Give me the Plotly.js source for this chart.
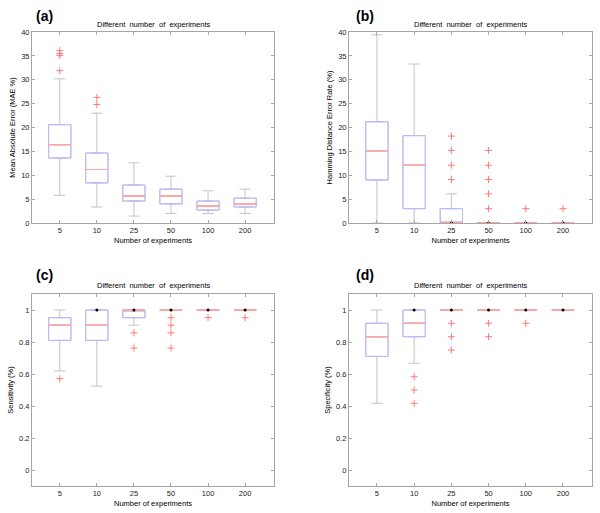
<!DOCTYPE html>
<html>
<head>
<meta charset="utf-8">
<script src="https://cdn.plot.ly/plotly-3.0.1.min.js"></script>
<style>
  html, body { margin: 0; padding: 0; background: #fff; }
  #chart { width: 600px; height: 513px; }
</style>
</head>
<body>
<div id="chart"></div>
<script>
// categories (number of experiments)
var cats = ['5', '10', '25', '50', '100', '200'];
var pos = [1, 2, 3, 4, 5, 6];

// (a) mean absolute error, box stats
var maeQ1  = [13.6, 8.4, 4.6, 4.0, 2.7, 3.35];
var maeMed = [16.4, 11.2, 5.65, 5.65, 3.55, 4.0];
var maeQ3  = [20.6, 14.65, 7.95, 7.1, 4.6, 5.2];
var maeLo  = [5.8, 3.35, 1.45, 2.0, 2.0, 2.0];
var maeHi  = [30.2, 23.0, 12.6, 9.8, 6.75, 7.1];
var maeOutX = [1, 1, 1, 1, 2, 2];
var maeOutY = [36.1, 35.5, 35.1, 31.9, 26.3, 24.8];

// (b) hamming distance error rate
var hdQ1  = [9.0, 3.0, 0, 0, 0, 0];
var hdMed = [15.1, 12.1, 0, 0, 0, 0];
var hdQ3  = [21.2, 18.3, 3.0, 0, 0, 0];
var hdLo  = [0, 0, 0, 0, 0, 0];
var hdHi  = [39.4, 33.3, 6.1, 0, 0, 0];
var hdOutX = [3, 3, 3, 3, 4, 4, 4, 4, 4, 5, 6];
var hdOutY = [18.2, 15.2, 12.1, 9.1, 15.2, 12.1, 9.1, 6.1, 3.0, 3.0, 3.0];

// (c) sensitivity
var senQ1  = [0.810, 0.810, 0.952, 1, 1, 1];
var senMed = [0.905, 0.905, 1, 1, 1, 1];
var senQ3  = [0.952, 1, 1, 1, 1, 1];
var senLo  = [0.619, 0.524, 0.905, 1, 1, 1];
var senHi  = [1, 1, 1, 1, 1, 1];
var senOutX = [1, 3, 3, 4, 4, 4, 4, 5, 6];
var senOutY = [0.571, 0.857, 0.762, 0.952, 0.905, 0.857, 0.762, 0.952, 0.952];

// (d) specificity
var speQ1  = [0.710, 0.833, 1, 1, 1, 1];
var speMed = [0.833, 0.917, 1, 1, 1, 1];
var speQ3  = [0.917, 1, 1, 1, 1, 1];
var speLo  = [0.417, 0.667, 1, 1, 1, 1];
var speHi  = [1, 1, 1, 1, 1, 1];
var speOutX = [2, 2, 2, 3, 3, 3, 4, 4, 5];
var speOutY = [0.583, 0.5, 0.417, 0.917, 0.833, 0.75, 0.917, 0.833, 0.917];

var boxBlue = 'rgb(185,185,255)';
var whiskGray = 'rgb(195,195,195)';
var medRed = 'rgb(255,165,165)';
var outRed = 'rgb(255,120,120)';

// one boxplot panel = whiskers (gray) + box (blue) + median (red) + outliers + end dots
function panel(q1, med, q3, lo, hi, outX, outY, xa, ya) {
    var traces = [];
    traces.push({
        type: 'box', x: pos, q1: q1, median: med, q3: q3,
        lowerfence: lo, upperfence: hi,
        width: 0.6, whiskerwidth: 0.5, boxpoints: false,
        line: {color: whiskGray, width: 1}, fillcolor: 'rgba(0,0,0,0)',
        xaxis: xa, yaxis: ya, hoverinfo: 'skip'
    });
    traces.push({
        type: 'box', x: pos, q1: q1, median: med, q3: q3,
        lowerfence: q1, upperfence: q3,
        width: 0.6, boxpoints: false,
        line: {color: boxBlue, width: 1}, fillcolor: 'rgba(0,0,0,0)',
        xaxis: xa, yaxis: ya, hoverinfo: 'skip'
    });
    traces.push({
        type: 'box', x: pos, q1: med, median: med, q3: med,
        lowerfence: med, upperfence: med,
        width: 0.6, boxpoints: false,
        line: {color: medRed, width: 1}, fillcolor: 'rgba(0,0,0,0)',
        xaxis: xa, yaxis: ya, hoverinfo: 'skip'
    });
    traces.push({
        type: 'scatter', mode: 'markers', x: outX, y: outY,
        marker: {symbol: 'cross-thin-open', size: 5, color: outRed, line: {color: outRed, width: 1}},
        xaxis: xa, yaxis: ya, hoverinfo: 'skip'
    });
    // MATLAB puts a black dot where a whisker has zero length
    var dx = [], dy = [];
    for (var i = 0; i < pos.length; i++) {
        if (q3[i] === hi[i]) { dx.push(pos[i]); dy.push(hi[i]); }
        else if (q1[i] === lo[i]) { dx.push(pos[i]); dy.push(lo[i]); }
    }
    traces.push({
        type: 'scatter', mode: 'markers', x: dx, y: dy,
        marker: {color: '#000', size: 3},
        xaxis: xa, yaxis: ya, hoverinfo: 'skip'
    });
    return traces;
}

var data = [].concat(
    panel(maeQ1, maeMed, maeQ3, maeLo, maeHi, maeOutX, maeOutY, 'x', 'y'),
    panel(hdQ1, hdMed, hdQ3, hdLo, hdHi, hdOutX, hdOutY, 'x2', 'y2'),
    panel(senQ1, senMed, senQ3, senLo, senHi, senOutX, senOutY, 'x3', 'y3'),
    panel(speQ1, speMed, speQ3, speLo, speHi, speOutX, speOutY, 'x4', 'y4')
);

var fnt = 'Liberation Sans, Arial, sans-serif';
var frame = 'rgb(165,165,165)';

function xax(dom, anchor) {
    return {
        domain: dom, anchor: anchor, range: [0.25, 6.78],
        tickvals: pos, ticktext: cats,
        ticks: 'inside', ticklen: 3, tickcolor: frame,
        showline: true, linecolor: frame, linewidth: 1, mirror: 'ticks',
        showgrid: false, zeroline: false, automargin: false,
        tickfont: {family: fnt, size: 7.5, color: '#222'},
        title: {text: 'Number of experiments', font: {family: fnt, size: 7.5, color: '#000'}, standoff: 3}
    };
}
function yax(dom, anchor, rng, tv, tt, ttl) {
    return {
        domain: dom, anchor: anchor, range: rng,
        tickvals: tv, ticktext: tt,
        ticks: 'inside', ticklen: 3, tickcolor: frame,
        showline: true, linecolor: frame, linewidth: 1, mirror: 'ticks',
        showgrid: false, zeroline: false, automargin: false,
        tickfont: {family: fnt, size: 7.5, color: '#222'},
        title: {text: ttl, font: {family: fnt, size: 7.5, color: '#000'}, standoff: 4}
    };
}

var tvErr = [0, 5, 10, 15, 20, 25, 30, 35, 40];
var ttErr = ['0', '5', '10', '15', '20', '25', '30', '35', '40'];
var tvRate = [0, 0.2, 0.4, 0.6, 0.8, 1];
var ttRate = ['0', '0.2', '0.4', '0.6', '0.8', '1'];

var topDom = [0.5653, 0.9376];
var botDom = [0.0526, 0.4269];
var leftDom = [0.0533, 0.4567];
var rightDom = [0.5817, 0.9867];

var ttlText = 'Different  number  of  experiments';
function note(txt, x, y, size, bold) {
    return {
        text: bold ? '<b>' + txt + '</b>' : txt, xref: 'paper', yref: 'paper',
        x: x, y: y, xanchor: bold ? 'left' : 'center', yanchor: 'middle',
        showarrow: false, font: {family: fnt, size: size, color: '#000'}
    };
}

var layout = {
    width: 600, height: 513, autosize: false,
    margin: {l: 0, r: 0, t: 0, b: 0},
    paper_bgcolor: '#fff', plot_bgcolor: '#fff',
    showlegend: false, boxmode: 'overlay',
    xaxis: xax(leftDom, 'y'),
    yaxis: yax(topDom, 'x', [0, 40], tvErr, ttErr, 'Mean Absolute Error (MAE %)'),
    xaxis2: xax(rightDom, 'y2'),
    yaxis2: yax(topDom, 'x2', [0, 40], tvErr, ttErr, 'Hamming Distance Error Rate (%)'),
    xaxis3: xax(leftDom, 'y3'),
    yaxis3: yax(botDom, 'x3', [-0.1, 1.1], tvRate, ttRate, 'Sensitivity (%)'),
    xaxis4: xax(rightDom, 'y4'),
    yaxis4: yax(botDom, 'x4', [-0.1, 1.1], tvRate, ttRate, 'Specificity (%)'),
    annotations: [
        note('(a)', 34 / 600, 1 - 16 / 513, 14, true),
        note('(b)', 354 / 600, 1 - 16 / 513, 14, true),
        note('(c)', 34 / 600, 1 - 275 / 513, 14, true),
        note('(d)', 354 / 600, 1 - 275 / 513, 14, true),
        note(ttlText, 153 / 600, 1 - 24 / 513, 7.5, false),
        note(ttlText, 470 / 600, 1 - 24 / 513, 7.5, false),
        note(ttlText, 153 / 600, 1 - 285 / 513, 7.5, false),
        note(ttlText, 470 / 600, 1 - 285 / 513, 7.5, false)
    ]
};

Plotly.newPlot('chart', data, layout, {displayModeBar: false, staticPlot: true});
</script>
</body>
</html>
